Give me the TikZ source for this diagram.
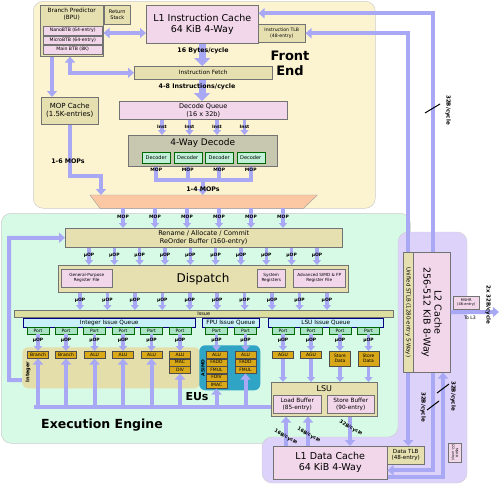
\documentclass[tikz,border=0pt]{standalone}
\usepackage{fontspec}
\setmainfont{DejaVu Sans}
\usepackage{tikz}
\usetikzlibrary{positioning, arrows.meta}

\definecolor{febg}{RGB}{252,243,208}
\definecolor{eebg}{RGB}{214,250,230}
\definecolor{l2bg}{RGB}{221,210,250}
\definecolor{tanc}{RGB}{230,224,176}
\definecolor{pinkc}{RGB}{242,214,234}
\definecolor{grayc}{RGB}{200,200,176}
\definecolor{mintc}{RGB}{192,240,216}
\definecolor{portc}{RGB}{168,228,196}
\definecolor{iqc}{RGB}{200,240,248}
\definecolor{issuec}{RGB}{220,222,160}
\definecolor{euc}{RGB}{216,168,24}
\definecolor{intc}{RGB}{228,222,170}
\definecolor{simdc}{RGB}{48,164,196}
\definecolor{mqc}{RGB}{252,200,164}
\definecolor{arrowc}{RGB}{168,168,245}

\begin{document}
\begin{tikzpicture}[x = 1pt, y = -1pt, every node/.style = { align = center },
    blk/.style = { draw = black!55, line width = .5pt, inner sep = 0pt, align = center, anchor = north west },
    sz/.style 2 args = { minimum width = #1, minimum height = #2 },
    tanbox/.style = { blk, fill = tanc },
    pinkbox/.style = { blk, fill = pinkc },
    decbox/.style = { blk, fill = mintc, draw = green!40!black, sz = {28}{11}, font = \fontsize{5}{6}\selectfont },
    iqbox/.style = { blk, fill = iqc, draw = blue!50!black, font = \fontsize{5.8}{6.5}\selectfont },
    portbox/.style = { blk, anchor = north, fill = portc, draw = green!40!black, sz = {22}{6.5}, font = \fontsize{4.5}{5}\selectfont },
    eubox/.style = { blk, anchor = north, fill = euc, draw = black!70, sz = {21}{7}, font = \fontsize{4.5}{5}\selectfont },
    region/.style = { draw = black!20, line width = .5pt, rounded corners = 10pt, anchor = north west, inner sep = 0pt },
    fbig/.style = { font = \fontsize{9.5}{11}\selectfont },
    fmid/.style = { font = \fontsize{6.5}{7.5}\selectfont },
    fsml/.style = { font = \fontsize{5.8}{6.8}\selectfont },
    ftny/.style = { font = \fontsize{4.6}{5.4}\selectfont },
    lbl/.style = { font = \fontsize{4.5}{5}\selectfont\bfseries, inner sep = 0pt },
    bw/.style = { font = \fontsize{6.3}{7}\selectfont\bfseries, inner sep = 0pt },
    link/.style = { draw = arrowc, line width = 4pt, -{Triangle[width = 10pt, length = 6pt]} },
    twin/.style = { link, {Triangle[width = 10pt, length = 6pt]}-{Triangle[width = 10pt, length = 6pt]} },
    bar/.style = { draw = arrowc, line width = 4pt },
    fat/.style = { draw = arrowc, line width = 7pt, -{Triangle[width = 16pt, length = 8pt]} },
    narr/.style = { draw = arrowc, line width = 3.5pt, -{Triangle[width = 8pt, length = 5pt]} }]

    \useasboundingbox (0, 0) rectangle (500, 485);
    \node[region, fill = febg, sz = {342}{207}] (fe) at (33, 1) { };
    \node[region, fill = eebg, sz = {409}{230}] (ee) at (1, 213) { };
    \draw[draw = black!20, fill = l2bg, rounded corners = 10pt] (398, 232) -- (467, 232) -- (467, 483) -- (262, 483) -- (262, 437) -- (398, 437) -- cycle;

    \node[tanbox, sz = {63}{51}] (bpu) at (40, 5) { };
    \node[fsml] at ([yshift = -9pt]bpu.north) {Branch Predictor\\(BPU)};
    \node[pinkbox, sz = {59}{8.5}, ftny] (nano) at (43, 26) {NanoBTB (64-entry)};
    \node[pinkbox, sz = {59}{8.5}, ftny, below = .5pt of nano] (micro) {MicroBTB (64-entry)};
    \node[pinkbox, sz = {59}{8.5}, ftny, below = .5pt of micro] (mbtb) {Main BTB (8K)};
    \node[tanbox, sz = {26}{19}, font = \fontsize{5}{6}\selectfont] (rs) at (104, 5) {Return\\Stack};
    \node[pinkbox, sz = {112}{38}, fbig] (l1i) at (146, 5) {L1 Instruction Cache\\64 KiB 4-Way};
    \node[tanbox, sz = {47}{18}, ftny] (itlb) at (258, 24) {Instruction TLB\\(48-entry)};
    \node[tanbox, sz = {138}{13}, fsml] (fetch) at (134, 66) {Instruction Fetch};
    \node[tanbox, sz = {57}{27}, font = \fontsize{7}{8}\selectfont] (mopc) at (41, 97) {MOP Cache\\(1.5K-entries)};
    \node[pinkbox, sz = {168}{18}, fmid] (dq) at (119, 101) {Decode Queue\\(16 x 32b)};
    \node[blk, fill = grayc, sz = {149}{31}] (dec) at (128, 135) { };
    \node[font = \fontsize{9}{10}\selectfont] at ([yshift = -8pt]dec.north) {4-Way Decode};
    \foreach \i/\x in {1/142, 2/173.5, 3/205, 4/236.5}
      \node[decbox] (d\i) at (\x, 152) {Decoder};
    \node[sz = {227}{13}, anchor = north west, inner sep = 0pt] (mq) at (90, 195) { };
    \filldraw[fill = mqc, draw = black!40] (mq.north west) -- (mq.north east) -- ([xshift = -14pt]mq.south east) -- ([xshift = 10pt]mq.south west) -- cycle;
    \node[font = \fontsize{13}{15}\selectfont\bfseries] at (290, 63) {Front\\End};

    \draw[twin] (bpu.east |- 0, 33) -- (l1i.west |- 0, 33);
    \draw[fat] (l1i.south) -- (l1i.south |- fetch.north);
    \node[bw] at (203, 51) {16 Bytes/cycle};
    \draw[twin] (bpu.south -| 70, 0) |- (fetch.west);
    \draw[fat] (fetch.south -| 202, 0) -- (dq.north -| 202, 0);
    \node[bw] at (197, 87) {4-8 Instructions/cycle};
    \draw[link] (bpu.south -| 52, 0) -- (mopc.north -| 52, 0);
    \foreach \x in {162, 189.5, 217, 244.5} {
      \draw[narr] (\x, 0 |- dq.south) -- (\x, 0 |- dec.north);
      \node[lbl] at (\x, 127) {Inst};
    }
    \draw[bar] (d1.south |- dec.south) -- (d1 |- 0, 180) -- (d4 |- 0, 180) -- (d4.south |- dec.south);
    \foreach \i in {2, 3}
      \draw[bar] (d\i.south |- dec.south) -- (d\i |- 0, 180);
    \foreach \i in {1, ..., 4}
      \node[lbl] at (d\i |- 0, 170) {MOP};
    \draw[link] (dec.south |- 0, 180) -- (dec.south |- mq.north);
    \node[bw] at (203, 189) {1-4 MOPs};
    \draw[link] (mopc.south) -- ++(0, 51) -| ([xshift = 11pt]mq.north west);
    \node[bw] at (68, 161) {1-6 MOPs};

    \node[tanbox, sz = {277}{19}, fmid] (rob) at (65, 228) {Rename / Allocate / Commit\\ReOrder Buffer (160-entry)};
    \node[tanbox, sz = {290}{27}] (disp) at (58, 265) { };
    \node[font = \fontsize{12}{14}\selectfont] at (203, 279) {Dispatch};
    \node[pinkbox, sz = {51}{18}, font = \fontsize{4.2}{5}\selectfont] (gprf) at (61, 269) {General-Purpose\\Register File};
    \node[pinkbox, sz = {28}{18}, font = \fontsize{4.2}{5}\selectfont] (sysr) at (257, 269) {System\\Registers};
    \node[pinkbox, sz = {52}{18}, font = \fontsize{4.2}{5}\selectfont] (fprf) at (293, 269) {Advanced SIMD \& FP\\Register File};
    \node[blk, fill = issuec, sz = {379}{7}, font = \fontsize{5}{6}\selectfont] (iss) at (14, 310) {Issue};
    \node[iqbox, sz = {172}{8.5}] (iiq) at (23, 318) {Integer Issue Queue};
    \node[iqbox, sz = {57}{8.5}] (fiq) at (202, 318) {FPU Issue Queue};
    \node[iqbox, sz = {115}{8.5}] (liq) at (268, 318) {LSU Issue Queue};

    \foreach \x in {123, 155, ..., 283} {
      \draw[narr] (\x, 0 |- mq.south) -- (\x, 0 |- rob.north);
      \node[lbl] at (\x, 217) {MOP};
    }
    \foreach \x in {89, 114.33, ..., 318} {
      \draw[narr] (\x, 0 |- rob.south) -- (\x, 0 |- disp.north);
      \node[lbl] at (\x, 255) {µOP};
    }
    \foreach \x in {80, 107.44, ..., 328} {
      \draw[narr] (\x, 0 |- disp.south) -- (\x, 0 |- iss.north);
      \node[lbl] at (\x, 300) {µOP};
    }

    \node[blk, fill = intc, draw = none, rounded corners = 6pt, sz = {178}{41}] (intr) at (22, 347) { };
    \node[font = \fontsize{5}{6}\selectfont\bfseries, rotate = 90] at (28, 372) {Integer};
    \node[blk, fill = simdc, draw = none, rounded corners = 6pt, sz = {61}{45}] (simd) at (199, 345) { };
    \node[font = \fontsize{4.5}{5}\selectfont\bfseries, rotate = 90] at (203, 368) {ASIMD};
    \foreach \n/\x in {i1/38, i2/66, i3/94.5, i4/123, i5/151.5, i6/180, f1/216.5, f2/245.5, l1/283, l2/311, l3/340, l4/368.5}
      \node[portbox] (p\n) at (\x, 327) {Port};
    \foreach \n/\t in {i1/Branch, i2/Branch, i3/ALU, i4/ALU, i5/ALU, i6/ALU, f1/ALU, f2/ALU, l1/AGU, l2/AGU}
      \node[eubox] (e\n) at (p\n.south |- 0, 351) {\t};
    \foreach \n in {l3, l4}
      \node[eubox, minimum height = 15] (e\n) at (p\n.south |- 0, 351) {Store\\Data};
    \node[eubox, below = 0pt of ei6] (ei6b) {MAC};
    \node[eubox, below = 0pt of ei6b] (ei6c) {DIV};
    \node[eubox, below = 0pt of ef1] (ef1b) {FADD};
    \node[eubox, below = 0pt of ef1b] (ef1c) {FMUL};
    \node[eubox, below = 0pt of ef1c] (ef1d) {FDIV};
    \node[eubox, below = 0pt of ef1d] (ef1e) {IMAC};
    \node[eubox, below = 0pt of ef2] (ef2b) {FADD};
    \node[eubox, below = 0pt of ef2b] (ef2c) {FMUL};
    \foreach \n in {i1, i2, i3, i4, i5, i6, f1, f2, l1, l2, l3, l4} {
      \draw[narr] (p\n.south) -- (e\n.north);
      \node[lbl] at (p\n.south |- 0, 340) {µOP};
    }
    \node[font = \fontsize{11}{12}\selectfont\bfseries] at (197, 397) {EUs};

    \node[tanbox, sz = {106}{34}] (lsu) at (271, 382) { };
    \node[font = \fontsize{8}{9}\selectfont] at ([yshift = -7pt]lsu.north) {LSU};
    \node[pinkbox, sz = {48}{18}, fsml] (ldb) at (273, 395) {Load Buffer\\(85-entry)};
    \node[pinkbox, sz = {47}{18}, fsml] (stb) at (327, 395) {Store Buffer\\(90-entry)};
    \foreach \n in {l1, l2, l3, l4}
      \draw[narr] (e\n.south) -- (e\n.south |- lsu.north);
    \coordinate (bus) at (36, 407);
    \draw[bar] (lsu.west |- bus) -- ([xshift = -2pt]bus);
    \foreach \n in {ei1, ei2, ei3, ei4, ei5, ei6c, ef1e, ef2c}
      \draw[link] (bus -| \n.south) -- (\n.south);
    \coordinate (ret) at (9, 380);
    \draw[link] ([yshift = -12.5pt]intr.west) -- (ret) |- (rob.west);
    \node[font = \fontsize{12.5}{14}\selectfont\bfseries] at (102, 425) {Execution Engine};

    \node[pinkbox, sz = {114}{33}, fbig] (l1d) at (273, 446) {L1 Data Cache\\64 KiB 4-Way};
    \node[tanbox, sz = {37}{18}, font = \fontsize{5.6}{6.4}\selectfont] (dtlb) at (387, 446) {Data TLB\\(48-entry)};
    \node[pinkbox, sz = {37}{120}] (ltwo) at (413, 252) { };
    \node[fbig, rotate = -90] at (ltwo) {L2 Cache\\256-512 KiB 8-Way};
    \node[tanbox, sz = {10}{120}] (stlb) at (403, 252) { };
    \node[font = \fontsize{5.5}{6}\selectfont, rotate = -90] at (stlb) {Unified STLB (1280-entry 5-Way)};
    \node[pinkbox, sz = {26}{13}, font = \fontsize{3.6}{4.2}\selectfont] (mshr) at (453, 296) {MSHR\\(46-entry)};
    \node[pinkbox, sz = {13}{19}] (mshrd) at (448, 443) { };
    \node[font = \fontsize{3.2}{3.8}\selectfont, rotate = -90] at (mshrd) {MSHR\\(22-entry)};

    \foreach \x in {286, 308}
      \draw[link] (\x, 0 |- l1d.north) -- (\x, 0 |- lsu.south);
    \draw[link] (350, 0 |- lsu.south) -- (350, 0 |- l1d.north);
    \node[bw, font = \fontsize{4.8}{5}\selectfont\bfseries, rotate = -30] at (286, 437) {16B/cycle};
    \node[bw, font = \fontsize{4.8}{5}\selectfont\bfseries, rotate = -30] at (309, 435) {16B/cycle};
    \node[bw, font = \fontsize{4.8}{5}\selectfont\bfseries, rotate = -30] at (351, 428) {32B/cycle};

    \draw[link] (ltwo.north -| 433, 0) |- ([yshift = 11pt]l1i.east);
    \draw[link] (stlb.north) |- (itlb.east);
    \draw[link] (stlb.south) -- (stlb.south |- dtlb.north);
    \draw[link] (ltwo.south -| 433, 0) |- ([yshift = -7.5pt]l1d.east);
    \draw[link] ([yshift = -14.5pt]l1d.east) -| (ltwo.south -| 443, 0);
    \coordinate (tol3) at (499, 312);
    \draw[link] (ltwo.east) -- (tol3);
    \node[font = \fontsize{4.6}{5}\selectfont] at (470, 318) {To L3};
    \node[bw, font = \fontsize{5.5}{6}\selectfont\bfseries, rotate = -90] at (488, 305) {2x 32B/cycle};
    \node[bw, font = \fontsize{5.5}{6}\selectfont\bfseries, rotate = -90] at (448, 110) {32B/cycle};
    \draw[line width = 1pt] (425, 113) -- (440, 104);
    \node[bw, font = \fontsize{5.5}{6}\selectfont\bfseries, rotate = -90] at (423, 407) {32B/cycle};
    \node[bw, font = \fontsize{5.5}{6}\selectfont\bfseries, rotate = -90] at (453, 396) {32B/cycle};
    \draw[line width = 1pt] (427, 410) -- (439, 401);
    \draw[line width = 1pt] (437, 393) -- (449, 384);
  \end{tikzpicture}
\end{document}
